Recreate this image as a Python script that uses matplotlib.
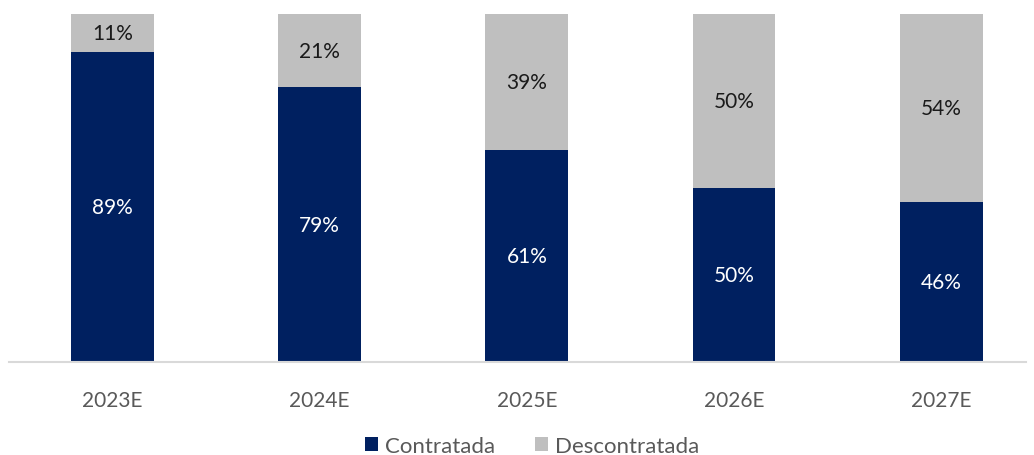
import matplotlib.pyplot as plt
import numpy as np

# Data
years = ['2023E', '2024E', '2025E', '2026E', '2027E']
contratada = [89, 79, 61, 50, 46]
descontratada = [11, 21, 39, 50, 54]

navy = '#002060'
grey = '#BFBFBF'

plt.rcParams['font.family'] = ['Lato', 'DejaVu Sans']

fig = plt.figure(figsize=(10.34, 4.56), dpi=100)
ax = fig.add_axes([9/1034, (456-363)/456, (1026-9)/1034, (363-15)/456])

x = np.arange(len(years))
w = 0.4
b1 = ax.bar(x, contratada, w, color=navy, label='Contratada')
b2 = ax.bar(x, descontratada, w, bottom=contratada, color=grey, label='Descontratada')

for i in range(len(years)):
    ax.text(x[i], contratada[i]/2, f'{contratada[i]}%', ha='center', va='center',
            color='white', fontsize=15)
    ax.text(x[i], contratada[i] + descontratada[i]/2, f'{descontratada[i]}%',
            ha='center', va='center', color='#1a1a1a', fontsize=15)

ax.set_xlim(-0.5, 4.41)
ax.set_ylim(0, 100)
ax.set_xticks(x)
ax.set_xticklabels(years, fontsize=15, color='#595959')
ax.tick_params(axis='x', length=0, pad=20)
ax.set_yticks([])
for s in ['top', 'right', 'left']:
    ax.spines[s].set_visible(False)
ax.spines['bottom'].set_color('#D9D9D9')
ax.spines['bottom'].set_linewidth(1.5)

fig.legend(handles=[b1, b2], loc='center', bbox_to_anchor=(532/1034, 1 - 447/456),
           ncol=2, frameon=False, fontsize=16, labelcolor='#595959',
           handlelength=0.6, handleheight=0.6, handletextpad=0.3, columnspacing=1.8)

fig.savefig('out.png', dpi=100)
